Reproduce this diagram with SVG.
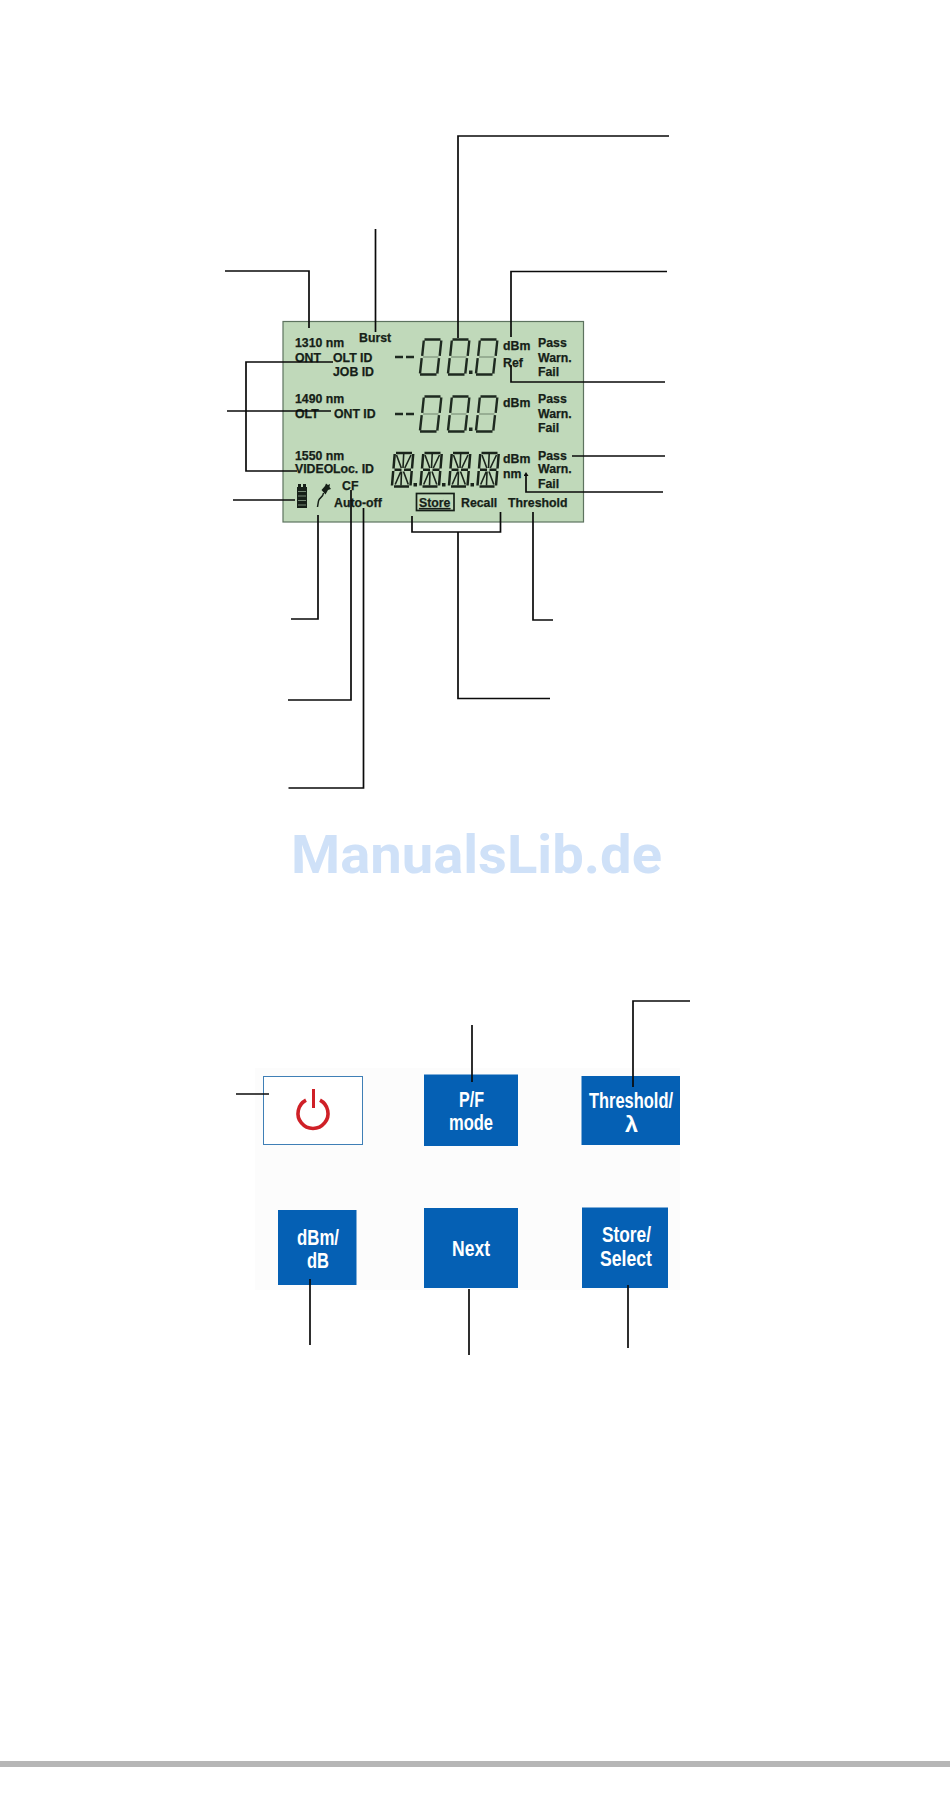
<svg xmlns="http://www.w3.org/2000/svg" xmlns:xlink="http://www.w3.org/1999/xlink" width="950" height="1817" viewBox="0 0 950 1817">
<style>
.lcd{font-family:"Liberation Sans",Arial,sans-serif;font-weight:700;font-size:12.3px;fill:#161f18;stroke:#161f18;stroke-width:.25px}
.btn{font-family:"Liberation Sans",Arial,sans-serif;font-weight:700;font-size:21.5px;fill:#fff}
.key{fill:#0560b4}
.conn{fill:none;stroke:#0a0a0a;stroke-width:1.7}
.seg{fill:none;stroke:#1e2a20;stroke-width:2.4;stroke-linecap:butt}
.mid{fill:none;stroke:#1e2a20;stroke-width:1.4;stroke-opacity:.35}
.seg2{fill:none;stroke:#1a241b;stroke-width:2.5}
.diag{fill:none;stroke:#1a241b;stroke-width:1.6}
</style>
<defs>
<marker id="tip" markerWidth="5" markerHeight="5" refX="1" refY="2.5" orient="auto-start-reverse" markerUnits="userSpaceOnUse"><path d="M0 0L4 2.5L0 5Z" fill="#0a0a0a"/></marker>
<g id="d7"><path class="seg" d="M5.500 0.500H21.500M4.800 1.500L3.200 16.800M22.300 1.500L20.700 16.800M2.700 19.200L1 34.500M20 19.200L18.300 34.500M1 35.500H17.500"/><path class="mid" d="M4 18H19.500"/></g>
<g id="d14"><path class="seg2" d="M4 1H20M2.700 2L1.500 16.500M21.200 2L20 16.500M2.500 17.800H9.500M12 17.800H19M1.200 19L0 33.500M19.700 19L18.500 33.500M2 34.500H17"/><path class="diag" d="M11.700 2L11 16M9.500 19.500L9 33.500M4.500 3L9.300 16M19 3L12.800 16M8.800 19.500L3.200 32.500M11.500 19.500L16.300 32.500"/></g>
</defs>
<rect width="950" height="1817" fill="#fff"/>
<rect x="255" y="1068" width="425" height="222" fill="#fcfcfc"/>
<g id="lcd">
<rect x="283" y="321.5" width="300.500" height="200.500" fill="#c0d9ba" stroke="#5d735f" stroke-width="1.200"/>
<text class="lcd" x="295" y="347">1310 nm</text><text class="lcd" x="295" y="362">ONT</text>
<text class="lcd" x="333" y="362">OLT ID</text><text class="lcd" x="333" y="376">JOB ID</text>
<text class="lcd" x="359" y="342">Burst</text>
<text class="lcd" x="295" y="403">1490 nm</text><text class="lcd" x="295" y="418">OLT</text>
<text class="lcd" x="334" y="418">ONT ID</text>
<text class="lcd" x="295" y="460">1550 nm</text><text class="lcd" x="295" y="473">VIDEO</text>
<text class="lcd" x="333" y="473">Loc. ID</text>
<text class="lcd" x="342" y="490">CF</text><text class="lcd" x="334" y="507">Auto-off</text>
<text class="lcd" x="419" y="507" text-decoration="underline">Store</text><text class="lcd" x="461" y="507">Recall</text><text class="lcd" x="508" y="507">Threshold</text>
<rect x="416.500" y="493.500" width="37.500" height="17" fill="none" stroke="#161f18" stroke-width="1.700"/>
<text class="lcd" x="503" y="350">dBm</text><text class="lcd" x="503" y="367">Ref</text>
<text class="lcd" x="503" y="407">dBm</text>
<text class="lcd" x="503" y="463">dBm</text><text class="lcd" x="503" y="478">nm</text>
<text class="lcd" x="538" y="347">Pass</text><text class="lcd" x="538" y="362">Warn.</text><text class="lcd" x="538" y="376">Fail</text>
<text class="lcd" x="538" y="403">Pass</text><text class="lcd" x="538" y="418">Warn.</text><text class="lcd" x="538" y="432">Fail</text>
<text class="lcd" x="538" y="460">Pass</text><text class="lcd" x="538" y="473">Warn.</text><text class="lcd" x="538" y="488">Fail</text>
<path class="seg" d="M395 357H403M406 357H414M395 414H403M406 414H414"/>
<use xlink:href="#d7" href="#d7" x="419" y="339"/><use xlink:href="#d7" href="#d7" x="447" y="339"/><use xlink:href="#d7" href="#d7" x="475" y="339"/>
<use xlink:href="#d7" href="#d7" x="419" y="396"/><use xlink:href="#d7" href="#d7" x="447" y="396"/><use xlink:href="#d7" href="#d7" x="475" y="396"/>
<rect x="469" y="370.500" width="3.500" height="3.500" fill="#1e2a20"/><rect x="469" y="427.500" width="3.500" height="3.500" fill="#1e2a20"/>
<use xlink:href="#d14" href="#d14" x="392" y="452"/><use xlink:href="#d14" href="#d14" x="420.500" y="452"/><use xlink:href="#d14" href="#d14" x="449" y="452"/><use xlink:href="#d14" href="#d14" x="477.500" y="452"/>
<rect x="413.500" y="483" width="3.500" height="3.500" fill="#1a241b"/><rect x="442" y="483" width="3.500" height="3.500" fill="#1a241b"/><rect x="470.500" y="483" width="3.500" height="3.500" fill="#1a241b"/>
<path fill="#161f18" d="M297 508V487H298V484H301V487H303V484H306V487H307V508Z"/>
<path stroke="#8fa58f" stroke-width="0.800" d="M298 491.500H306M298 496H306M298 500.500H306M298 505H306"/>
<path fill="#161f18" d="M321.500 490L325 486L326 483.500L328 485L330 484L329.500 487L331 489L328 490L325.500 494.500Z"/>
<path fill="none" stroke="#161f18" stroke-width="1.500" d="M323.500 493C323 498 319 497 318.500 501L317.500 507"/>
</g>
<g id="watermark"><text x="291" y="873" font-family="Roboto,'Liberation Sans',sans-serif" font-weight="700" font-size="54" fill="#cfe1f8" textLength="371" lengthAdjust="spacingAndGlyphs">ManualsLib.de</text></g>
<g id="btn-power">
<rect x="263.500" y="1076.500" width="99" height="68" fill="#fff" stroke="#3f7fb6" stroke-width="1"/>
<path fill="none" stroke="#cf2027" stroke-width="3.600" d="M306 1100.200A15 15 0 1 0 320 1100.200"/>
<path fill="none" stroke="#cf2027" stroke-width="3" d="M313.500 1089V1108"/>
</g>
<g id="btn-pf"><rect class="key" x="424" y="1074.500" width="94" height="71.500"/>
<text class="btn" x="459" y="1107" textLength="25" lengthAdjust="spacingAndGlyphs">P/F</text><text class="btn" x="449" y="1130" textLength="44" lengthAdjust="spacingAndGlyphs">mode</text></g>
<g id="btn-threshold"><rect class="key" x="581.500" y="1076" width="98.500" height="69"/>
<text class="btn" x="589" y="1108" textLength="84" lengthAdjust="spacingAndGlyphs">Threshold/</text><text class="btn" x="625" y="1132" textLength="13" lengthAdjust="spacingAndGlyphs">λ</text></g>
<g id="btn-dbm"><rect class="key" x="278" y="1210" width="78.500" height="75"/>
<text class="btn" x="297" y="1245" textLength="42" lengthAdjust="spacingAndGlyphs">dBm/</text><text class="btn" x="307" y="1268" textLength="22" lengthAdjust="spacingAndGlyphs">dB</text></g>
<g id="btn-next"><rect class="key" x="424" y="1208" width="94" height="80"/>
<text class="btn" x="452" y="1256" textLength="38" lengthAdjust="spacingAndGlyphs">Next</text></g>
<g id="btn-store"><rect class="key" x="582" y="1207.500" width="86" height="80.500"/>
<text class="btn" x="602" y="1242" textLength="49" lengthAdjust="spacingAndGlyphs">Store/</text><text class="btn" x="600" y="1266" textLength="52" lengthAdjust="spacingAndGlyphs">Select</text></g>
<g id="footer"><rect x="0" y="1761" width="950" height="6" fill="#b6b6b6"/></g>
<g id="connectors" class="conn">
<path d="M669 136H458V338"/>
<path d="M375.500 229V332"/>
<path d="M225 271H309V328"/>
<path d="M667 271.500H511V337"/>
<path d="M665 382H511V365"/>
<path d="M665 456H572"/>
<path d="M663 492H526V475" marker-end="url(#tip)"/>
<path d="M333 362H246V471H297"/>
<path d="M227 411H331"/>
<path d="M233 500H295"/>
<path d="M291 619H318V515"/>
<path d="M288 700H351V490"/>
<path d="M288.500 788H363.500V508"/>
<path d="M412 516V532H500.500V512"/>
<path d="M458 532V698.500H550"/>
<path d="M553 620H533V512"/>
<path d="M236 1094H269"/>
<path d="M472 1025V1082"/>
<path d="M690 1001H633V1087"/>
<path d="M310 1279V1345"/>
<path d="M469 1289V1355"/>
<path d="M628 1285V1348"/>
</g>
</svg>
